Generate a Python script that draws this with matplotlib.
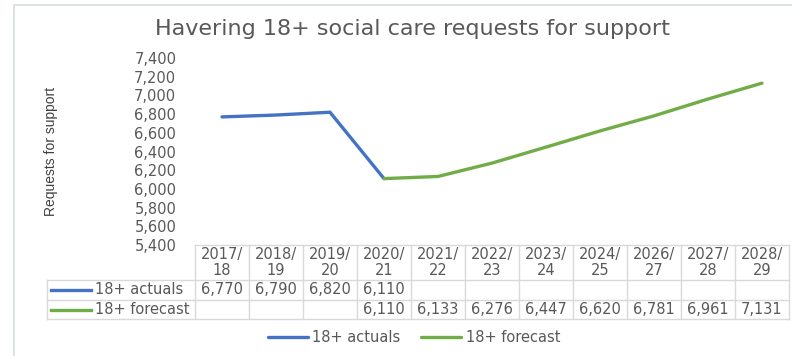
import numpy as np
import matplotlib
matplotlib.use("Agg")
import matplotlib.pyplot as plt
from matplotlib.patches import Rectangle
from matplotlib.ticker import FuncFormatter

years = ["2017/18", "2018/19", "2019/20", "2020/21", "2021/22", "2022/23",
         "2023/24", "2024/25", "2026/27", "2027/28", "2028/29"]
actuals = [6770, 6790, 6820, 6110, np.nan, np.nan, np.nan, np.nan, np.nan, np.nan, np.nan]
forecast = [np.nan, np.nan, np.nan, 6110, 6133, 6276, 6447, 6620, 6781, 6961, 7131]
series_names = ["18+ actuals", "18+ forecast"]
series_colors = ["#4472C4", "#70AD47"]
y_ticks = list(range(5400, 7401, 200))

TEXT = "#595959"
GRID = "#D9D9D9"
W, H = 792, 356
plt.rcParams["font.family"] = ["DejaVu Sans"]

fig = plt.figure(figsize=(W / 100, H / 100), dpi=100)
fig.patch.set_facecolor("white")

# outer chart border
fig.add_artist(Rectangle((14 / W, -0.1), 1.2, 1 - 5 / H + 0.1, transform=fig.transFigure,
                         fill=False, edgecolor="#D6DED6", linewidth=1.2))

def px_box(x0, y0, x1, y1):
    return [x0 / W, 1 - y1 / H, (x1 - x0) / W, (y1 - y0) / H]

# plot area
ax = fig.add_axes(px_box(195, 58, 789, 245))
x = np.arange(len(years))
series = [actuals, forecast]
for vals, name, col in zip(series, series_names, series_colors):
    ax.plot(x, vals, color=col, linewidth=2.4, label=name, solid_capstyle="round")
ax.set_xlim(-0.5, len(years) - 0.5)
ax.set_ylim(y_ticks[0], y_ticks[-1])
ax.set_yticks(y_ticks)
ax.yaxis.set_major_formatter(FuncFormatter(lambda v, p: f"{v:,.0f}"))
ax.tick_params(axis="y", length=0, pad=13.5, labelsize=10.5, labelcolor=TEXT)
ax.set_xticks([])
for s in ax.spines.values():
    s.set_visible(False)
fig.text(51 / W, 1 - 151 / H, "Requests for support", rotation=90, ha="center", va="center",
         fontsize=10, color="#404040", family=["Liberation Sans", "DejaVu Sans"])
fig.text(412 / W, 1 - 29 / H, "Havering 18+ social care requests for support",
         ha="center", va="center", fontsize=16, color=TEXT)

# data table under the plot
tab = fig.add_axes(px_box(195, 245, 789, 319))
tab.set_xlim(-0.5, len(years) - 0.5)
tab.set_ylim(74, 0)
tab.axis("off")
n = len(years)
label_left = -0.5 - (195 - 47) / 54
kw = dict(color=GRID, linewidth=1, clip_on=False)
tab.plot([-0.5, n - 0.5], [0, 0], **kw)
for yy in (35, 55, 74):
    tab.plot([label_left, n - 0.5], [yy, yy], **kw)
tab.plot([label_left, label_left], [35, 74], **kw)
for k in range(n + 1):
    tab.plot([k - 0.5, k - 0.5], [0, 74], **kw)

tkw = dict(fontsize=10.5, color=TEXT, clip_on=False)
for i, yr in enumerate(years):
    a, b = yr.split("/")
    tab.text(i, 17.5, f"{a}/\n{b}", ha="center", va="center", linespacing=1.1, **tkw)
row_y = [45, 64.5]
for r, (vals, name, col) in enumerate(zip(series, series_names, series_colors)):
    for i, v in enumerate(vals):
        if not np.isnan(v):
            tab.text(i, row_y[r], f"{v:,.0f}", ha="center", va="center", **tkw)
    tab.plot([label_left + 0.074, label_left + 0.815], [row_y[r], row_y[r]],
             color=col, linewidth=2.4, clip_on=False)
    tab.text(label_left + 0.89, row_y[r], name, ha="left", va="center", **tkw)

leg = fig.legend(*ax.get_legend_handles_labels(), loc="center",
                 bbox_to_anchor=(414 / W, 1 - 338 / H), ncol=2, frameon=False,
                 fontsize=10.5, handlelength=2.75, handletextpad=0.3, columnspacing=1.4)
for t in leg.get_texts():
    t.set_color(TEXT)

fig.savefig("out.png", dpi=100, facecolor="white")
